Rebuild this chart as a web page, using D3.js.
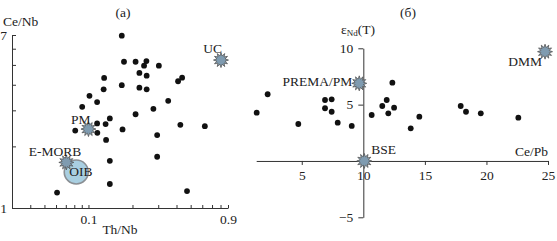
<!DOCTYPE html>
<html>
<head>
<meta charset="utf-8">
<script src="https://cdn.jsdelivr.net/npm/d3@7"></script>
<style>
    body { margin: 0; background: #fff; }
    text { font-family: "Liberation Serif", "Times New Roman", serif; fill: #222; }
</style>
</head>
<body>
<div id="chart"></div>
<script>
// Panel (a): Th/Nb vs Ce/Nb, samples
const thNb = [0.169, 0.175, 0.21, 0.249, 0.24, 0.303, 0.223, 0.25, 0.128, 0.437, 0.41, 0.169,
    0.223, 0.25, 0.127, 0.1016, 0.1146, 0.351, 0.0906, 0.278, 0.21, 0.14, 0.1146, 0.131,
    0.0812, 0.115, 0.171, 0.425, 0.625, 0.295, 0.132, 0.295, 0.14, 0.14, 0.061, 0.472];
const ceNb = [6.95, 5.18, 5.18, 5.22, 4.96, 4.96, 4.57, 4.43, 4.32, 4.33, 4.16, 3.98,
    3.87, 3.80, 3.80, 3.53, 3.29, 3.34, 3.12, 3.05, 2.87, 2.74, 2.59, 2.57,
    2.39, 2.33, 2.42, 2.55, 2.51, 2.27, 2.15, 1.78, 1.70, 1.31, 1.19, 1.21];

// Panel (a): reference reservoirs
const refANames = ["UC", "PM", "E-MORB"];
const refAThNb = [0.806, 0.1, 0.0706];
const refACeNb = [5.28, 2.43, 1.67];
const oibThNb = [0.0825];
const oibCeNb = [1.5];

// Panel (б): Ce/Pb vs eNd(T), samples
const cePb = [1.34, 2.23, 4.72, 6.89, 7.43, 6.89, 7.43, 7.92, 9.06, 10.68, 11.54,
    11.9, 12.36, 12.5, 12.03, 13.85, 14.55, 17.91, 18.34, 19.54, 22.59];
const eNd = [4.29, 5.92, 3.28, 5.41, 5.47, 4.68, 4.37, 3.40, 3.11, 4.08, 4.88,
    5.41, 6.95, 4.73, 4.23, 2.90, 3.93, 4.88, 4.37, 4.23, 3.84];

// Panel (б): reference reservoirs
const refBNames = ["PREMA/PM", "DMM", "BSE"];
const refBCePb = [9.67, 24.76, 10.08];
const refBENd = [6.89, 9.7, 0];

// ticks
const aYTicks = [1, 2, 3, 4, 5, 6, 7];
const aYLabels = [1, 7];
const aXTicks = [0.03, 0.04, 0.05, 0.06, 0.07, 0.08, 0.09, 0.1, 0.2, 0.3, 0.4, 0.5, 0.6, 0.7, 0.8, 0.9];
const aXLabels = [0.1, 0.9];
const bXTicks = [5, 10, 15, 20, 25];
const bYTicks = [-5, 5, 10];

const width = 557, height = 241;
const svg = d3.select("#chart").append("svg")
    .attr("width", width)
    .attr("height", height);

const fontSize = 13.5;

// star marker path around 0,0
function starPath(r1, r2, n) {
    const pts = d3.range(n * 2).map(i => [i * Math.PI / n, i % 2 ? r2 : r1]);
    return d3.lineRadial().curve(d3.curveLinearClosed)(pts);
}
const star = starPath(7.5, 4.3, 12);

function drawStar(g, cx, cy) {
    g.append("path")
        .attr("d", star)
        .attr("transform", `translate(${cx},${cy})`)
        .attr("fill", "#7f9bb0")
        .attr("stroke", "#555")
        .attr("stroke-width", 0.8);
}

function styleAxis(g) {
    g.selectAll("path, line").attr("stroke", "#333").attr("stroke-width", 1);
    g.selectAll("text")
        .style("font-family", '"Liberation Serif", serif')
        .style("font-size", fontSize + "px")
        .attr("fill", "#222");
}

// ---------- panel (a) ----------
const xa = d3.scaleLog().domain([0.03, 0.9]).range([12, 228]);
const ya = d3.scaleLog().domain([1, 7]).range([208, 35]);

const ga = svg.append("g");

ga.append("g")
    .attr("transform", `translate(0,${ya(1)})`)
    .call(d3.axisBottom(xa)
        .tickValues(aXTicks)
        .tickSize(-3)
        .tickSizeOuter(0)
        .tickPadding(6)
        .tickFormat(d => aXLabels.includes(d) ? String(d) : ""))
    .call(styleAxis);

ga.append("g")
    .attr("transform", `translate(${xa(0.03)},0)`)
    .call(d3.axisLeft(ya)
        .tickValues(aYTicks)
        .tickSize(-4)
        .tickSizeOuter(0)
        .tickPadding(5)
        .tickFormat(d => aYLabels.includes(d) ? String(d) : ""))
    .call(styleAxis);

ga.selectAll("circle.pt")
    .data(thNb)
    .enter()
    .append("circle")
    .attr("class", "pt")
    .attr("cx", d => xa(d))
    .attr("cy", (d, i) => ya(ceNb[i]))
    .attr("r", 2.9)
    .attr("fill", "#111");

// OIB field
ga.selectAll("circle.oib")
    .data(oibThNb)
    .enter()
    .append("circle")
    .attr("class", "oib")
    .attr("cx", d => xa(d))
    .attr("cy", (d, i) => ya(oibCeNb[i]))
    .attr("r", 12)
    .attr("fill", "#a9cfe1")
    .attr("stroke", "#8a8f94")
    .attr("stroke-width", 1.6);

refAThNb.forEach((v, i) => drawStar(ga, xa(v), ya(refACeNb[i])));

// labels for panel (a)
const aLabelOffsets = {
    "UC": { dx: 1, dy: -7, anchor: "end" },
    "PM": { dx: 2, dy: -5, anchor: "end" },
    "E-MORB": { dx: 15, dy: -6, anchor: "end" }
};
refANames.forEach((name, i) => {
    const o = aLabelOffsets[name];
    ga.append("text")
        .attr("x", xa(refAThNb[i]) + o.dx)
        .attr("y", ya(refACeNb[i]) + o.dy)
        .attr("text-anchor", o.anchor)
        .style("font-size", fontSize + "px")
        .text(name);
});
ga.append("text")
    .attr("x", xa(oibThNb[0]) - 7)
    .attr("y", ya(oibCeNb[0]) + 4.5)
    .style("font-size", fontSize + "px")
    .text("OIB");

ga.append("text").attr("x", 3).attr("y", 26).style("font-size", fontSize + "px").text("Ce/Nb");
ga.append("text").attr("x", 120).attr("y", 234).attr("text-anchor", "middle")
    .style("font-size", fontSize + "px").text("Th/Nb");
ga.append("text").attr("x", 123).attr("y", 17).attr("text-anchor", "middle")
    .style("font-size", fontSize + "px").text("(a)");

// ---------- panel (б) ----------
const xb = d3.scaleLinear().domain([1.3, 25]).range([256.2, 548]);
const yb = d3.scaleLinear().domain([-5, 10]).range([217.3, 48.3]);

const gb = svg.append("g");

gb.append("g")
    .attr("transform", `translate(0,${yb(0)})`)
    .call(d3.axisBottom(xb)
        .tickValues(bXTicks)
        .tickSize(4)
        .tickSizeOuter(0)
        .tickPadding(5))
    .call(styleAxis);

gb.append("g")
    .attr("transform", `translate(${xb(10)},0)`)
    .call(d3.axisLeft(yb)
        .tickValues(bYTicks)
        .tickSize(5)
        .tickSizeOuter(0)
        .tickPadding(5))
    .call(styleAxis);

gb.selectAll("circle.pt")
    .data(cePb)
    .enter()
    .append("circle")
    .attr("class", "pt")
    .attr("cx", d => xb(d))
    .attr("cy", (d, i) => yb(eNd[i]))
    .attr("r", 2.9)
    .attr("fill", "#111");

refBCePb.forEach((v, i) => drawStar(gb, xb(v), yb(refBENd[i])));

const bLabelOffsets = {
    "PREMA/PM": { dx: -7, dy: 3, anchor: "end" },
    "DMM": { dx: -3, dy: 14, anchor: "end" },
    "BSE": { dx: 7, dy: -6.5, anchor: "start" }
};
refBNames.forEach((name, i) => {
    const o = bLabelOffsets[name];
    gb.append("text")
        .attr("x", xb(refBCePb[i]) + o.dx)
        .attr("y", yb(refBENd[i]) + o.dy)
        .attr("text-anchor", o.anchor)
        .style("font-size", fontSize + "px")
        .text(name);
});

gb.append("text").attr("x", xb(25)).attr("y", yb(0) - 5).attr("text-anchor", "end")
    .style("font-size", fontSize + "px").text("Ce/Pb");

// epsilon Nd label with a small subscript
const eLabel = gb.append("text").attr("x", 358).attr("y", 34).attr("text-anchor", "middle")
    .style("font-size", fontSize + "px");
eLabel.append("tspan").text("ε");
eLabel.append("tspan").attr("dy", 2).style("font-size", "9px").text("Nd");
eLabel.append("tspan").attr("dy", -2).text("(T)");

gb.append("text").attr("x", 408).attr("y", 17).attr("text-anchor", "middle")
    .style("font-size", fontSize + "px").text("(б)");
</script>
</body>
</html>
